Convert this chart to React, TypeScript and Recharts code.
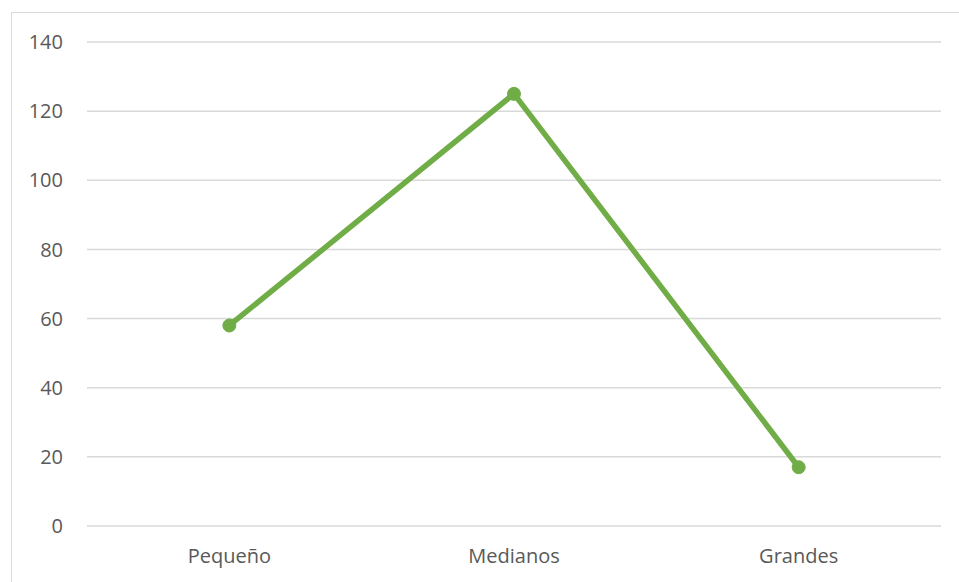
import { LineChart, Line, XAxis, YAxis, CartesianGrid } from 'recharts';

const categories = ['Pequeño', 'Medianos', 'Grandes'];
const values = [58, 125, 17];
const yTicks = [0, 20, 40, 60, 80, 100, 120, 140];

const data = categories.map((name, i) => ({ name, value: values[i] }));

const GREEN = '#70ad47';
const GRID = '#d9d9d9';
const LABEL = '#595959';

export default function App() {
  return (
    <div style={{ position: 'absolute', left: 0, top: 0, width: 959, height: 582, background: '#fff', overflow: 'hidden' }}>
      {/* chart frame, runs off the right and bottom edges */}
      <div
        style={{
          position: 'absolute', left: 11, top: 12, width: 960, height: 580,
          border: `1.5px solid ${GRID}`, boxSizing: 'border-box',
        }}
      />
      <LineChart
        width={959}
        height={582}
        data={data}
        margin={{ top: 42, right: 18, bottom: 0, left: 0 }}
        style={{ position: 'absolute', left: 0, top: 0, fontFamily: '"Open Sans", sans-serif' }}
      >
        <CartesianGrid vertical={false} stroke={GRID} strokeWidth={1.5} />
        <XAxis
          dataKey="name"
          scale="band"
          height={56}
          axisLine={false}
          tickLine={false}
          tickSize={0}
          tickMargin={23}
          tick={{ fill: LABEL, fontSize: 20 }}
        />
        <YAxis
          width={87}
          domain={[0, 140]}
          ticks={yTicks}
          axisLine={false}
          tickLine={false}
          tickSize={0}
          tickMargin={24}
          tick={{ fill: LABEL, fontSize: 20 }}
        />
        <Line
          dataKey="value"
          stroke={GREEN}
          strokeWidth={5.5}
          strokeLinejoin="round"
          dot={{ r: 6.5, fill: GREEN, stroke: GREEN, strokeWidth: 1 }}
          isAnimationActive={false}
        />
      </LineChart>
    </div>
  );
}
